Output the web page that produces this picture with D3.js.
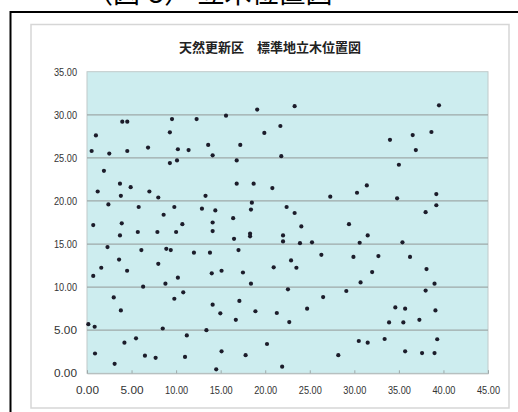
<!DOCTYPE html>
<html>
<head>
<meta charset="utf-8">
<script src="https://cdn.jsdelivr.net/npm/d3@7"></script>
<style>
  body { margin: 0; background: #fff; }
  .tick text { font-family: "Liberation Sans", Arial, sans-serif; font-size: 11px; fill: #333; }
</style>
</head>
<body>
<script>
// tree positions (m)
const treeX = [3.96, 4.52, 9.54, 12.3, 1.0, 9.3, 0.52, 2.5, 4.52, 6.85, 10.2, 11.4, 13.6, 14.1, 9.3, 10.1,
  1.9, 1.2, 3.7, 4.9, 3.8, 7.0, 8.0, 13.3, 2.4, 5.8, 9.8, 8.6, 12.9, 14.4,
  0.7, 3.9, 3.7, 5.7, 7.9, 10.0, 10.7, 14.1, 14.1, 2.3, 6.1, 8.9, 9.4, 12.0, 13.8, 3.6,
  1.6, 0.7, 4.5, 8.0, 10.2, 14.0, 6.3, 8.8, 3.0, 3.8, 9.8, 10.8, 14.1, 0.15, 0.86, 8.5,
  11.2, 13.4, 5.5, 4.2, 0.9, 6.5, 7.7, 3.1, 11.0, 14.5,
  19.1, 23.3, 15.6, 21.7, 19.9, 17.2, 16.8, 21.8, 16.8, 18.7, 20.8, 27.3, 18.5, 18.4, 22.4, 23.3, 16.4,
  24.05, 29.4, 16.5, 18.3, 18.3, 22.0, 22.0, 23.9, 25.25, 17.0, 26.3, 22.9, 23.5, 20.95, 15.1, 17.5,
  18.4, 22.55, 29.1, 26.5, 17.1, 24.7, 14.96, 18.9, 21.3, 16.7, 22.7, 20.2, 15.1, 17.8, 28.2, 21.9,
  39.5, 38.65, 36.55, 34.0, 36.9, 35.0, 31.4, 30.3, 34.8, 39.2, 39.2, 38.0,
  31.5, 30.6, 35.4, 29.9, 32.7, 36.25, 38.1, 32.0, 30.7, 39.0, 38.0, 34.6, 35.7, 39.1,
  33.9, 35.5, 37.3, 30.5, 31.5, 33.4, 39.3, 35.7, 37.6, 39.0];
const treeY = [29.2, 29.2, 29.5, 29.5, 27.6, 27.96, 25.8, 25.5, 25.8, 26.2, 26.0, 25.9, 26.5, 25.3, 24.4, 24.7,
  23.5, 21.1, 22.0, 21.6, 20.6, 21.1, 20.4, 20.6, 19.6, 19.3, 19.3, 18.4, 19.1, 18.9,
  17.2, 17.4, 16.0, 16.4, 16.4, 16.4, 17.3, 17.5, 16.5, 14.65, 14.3, 14.45, 14.3, 14.0, 14.0, 13.2,
  12.25, 11.3, 11.9, 12.7, 11.1, 11.6, 10.05, 10.4, 8.8, 7.3, 8.65, 9.4, 7.96, 5.7, 5.4, 5.2,
  4.4, 5.0, 4.06, 3.55, 2.3, 2.05, 1.8, 1.1, 1.9, 0.46,
  30.6, 31.0, 29.9, 28.7, 27.9, 26.5, 24.7, 25.2, 22.0, 22.0, 21.5, 20.5, 19.8, 19.0, 19.3, 18.6, 18.0,
  17.05, 17.3, 15.6, 16.2, 15.9, 16.0, 15.3, 15.1, 15.2, 14.3, 13.75, 13.1, 12.25, 12.3, 11.9, 11.7,
  10.4, 9.74, 9.55, 8.85, 8.4, 7.5, 6.96, 7.2, 7.0, 6.2, 5.95, 3.4, 2.55, 2.1, 2.1, 0.77,
  31.1, 28.0, 27.65, 27.1, 25.9, 24.2, 21.8, 20.95, 20.3, 20.8, 19.5, 18.7,
  16.0, 15.15, 15.2, 13.5, 13.6, 13.5, 12.1, 11.75, 10.55, 10.4, 9.6, 7.65, 7.5, 7.3,
  5.9, 5.9, 6.2, 3.75, 3.55, 3.98, 3.95, 2.55, 2.35, 2.35];

const xTicks = [0, 5, 10, 15, 20, 25, 30, 35, 40, 45];
const yTicks = [0, 5, 10, 15, 20, 25, 30, 35];
const chartTitle = "天然更新区　標準地立木位置図";
const pageHeading = "（図-5） 立木位置図";

const trees = treeX.map((x, i) => ({ x: x, y: treeY[i] }));

const svg = d3.select("body").append("svg")
  .attr("width", 518)
  .attr("height", 412);

// heading of the page, cut off at the top like in the scan
svg.append("text")
  .attr("x", 86)
  .attr("y", 3)
  .style("font-family", "'Noto Sans CJK JP', sans-serif")
  .style("font-size", "27px")
  .text(pageHeading);

// black frame
svg.append("path")
  .attr("d", "M10.5,412 V12 H518")
  .attr("fill", "none")
  .attr("stroke", "#000")
  .attr("stroke-width", 2);

// chart area
svg.append("rect")
  .attr("x", 31).attr("y", 24.5)
  .attr("width", 478).attr("height", 383.5)
  .attr("fill", "#fff")
  .attr("stroke", "#d6d6d6")
  .attr("stroke-width", 1.5);

const margin = { top: 71.7, right: 30, bottom: 38.7, left: 87 };
const width = 518 - margin.left - margin.right;
const height = 412 - margin.top - margin.bottom;

const g = svg.append("g")
  .attr("transform", `translate(${margin.left},${margin.top})`);

const x = d3.scaleLinear().domain([0, 45]).range([0, width]);
const y = d3.scaleLinear().domain([0, 35]).range([height, 0]);

// plot background
g.append("rect")
  .attr("width", width)
  .attr("height", height)
  .attr("fill", "#cdedef")
  .attr("stroke", "#c0caca");

// gridlines
g.selectAll(".grid")
  .data(yTicks.filter(d => d > 0 && d < 35))
  .enter().append("line")
  .attr("x1", 0).attr("x2", width)
  .attr("y1", d => y(d)).attr("y2", d => y(d))
  .attr("stroke", "#9ea9a9")
  .attr("stroke-width", 1.2);

// axes
const xAxis = g.append("g")
  .attr("transform", `translate(0,${height})`)
  .call(d3.axisBottom(x).tickValues(xTicks).tickFormat(d3.format(".2f")).tickSize(-3).tickPadding(12.5));
xAxis.select(".domain").attr("stroke", "#b0b8b8");
xAxis.selectAll(".tick line").attr("stroke", "#9ea9a9");

const yAxis = g.append("g")
  .call(d3.axisLeft(y).tickValues(yTicks).tickFormat(d3.format(".2f")).tickSize(0).tickPadding(10));
yAxis.select(".domain").remove();

// narrow labels like the original
svg.selectAll(".tick text")
  .attr("textLength", 23)
  .attr("lengthAdjust", "spacingAndGlyphs");

// trees
g.selectAll(".tree")
  .data(trees)
  .enter().append("circle")
  .attr("class", "tree")
  .attr("cx", d => x(d.x))
  .attr("cy", d => y(d.y))
  .attr("r", 2.1)
  .attr("fill", "#1c1c2a");

// title
svg.append("text")
  .attr("x", 270)
  .attr("y", 52)
  .attr("text-anchor", "middle")
  .style("font-family", "'Noto Sans CJK JP', sans-serif")
  .style("font-size", "13px")
  .style("font-weight", "bold")
  .style("fill", "#222")
  .text(chartTitle);
</script>
</body>
</html>
